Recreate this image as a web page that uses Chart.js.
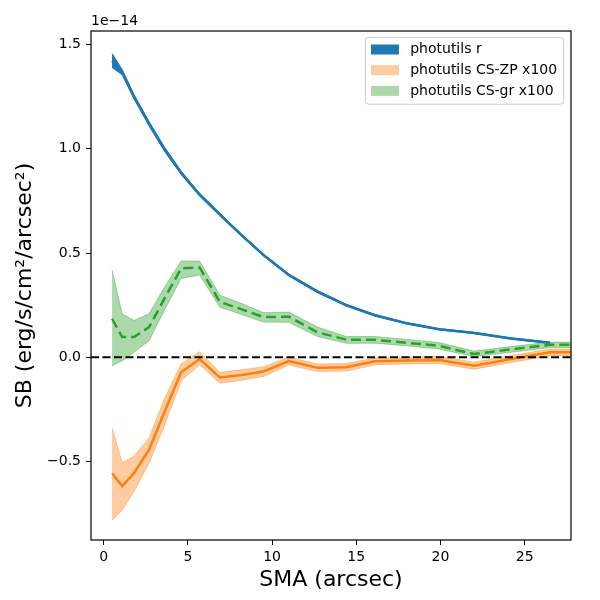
<!DOCTYPE html>
<html>
<head>
<meta charset="utf-8">
<script src="https://cdn.jsdelivr.net/npm/chart.js@4.4.1/dist/chart.umd.min.js"></script>
<style>
  body { margin: 0; background: #fff; }
  canvas { display: block; }
</style>
</head>
<body>
<canvas id="sb_chart" width="600" height="600"></canvas>
<script>
// semi-major axis (arcsec)
const sma = [0.5, 1.1, 1.8, 2.7, 3.6, 4.6, 5.7, 6.9, 8.2, 9.5, 11.0, 12.7, 14.4, 16.1, 18.0, 19.9, 22.0, 24.2, 26.5, 29.0];

// surface brightness, units of 1e-14 erg/s/cm2/arcsec2
const rMid = [1.42, 1.37, 1.25, 1.12, 1.00, 0.885, 0.78, 0.685, 0.585, 0.49, 0.395, 0.315, 0.25, 0.202, 0.163, 0.135, 0.117, 0.09, 0.07, null];
const rLo  = [1.39, 1.355, 1.24, 1.11, 0.99, 0.877, 0.773, 0.679, 0.58, 0.485, 0.39, 0.31, 0.246, 0.198, 0.16, 0.132, 0.114, 0.087, 0.067, null];
const rHi  = [1.457, 1.38, 1.26, 1.13, 1.01, 0.893, 0.787, 0.691, 0.59, 0.495, 0.40, 0.32, 0.254, 0.206, 0.166, 0.138, 0.12, 0.093, 0.073, null];

// CS-ZP x100
const zpMid = [-0.556, -0.617, -0.556, -0.443, -0.265, -0.072, -0.008, -0.097, -0.085, -0.068, -0.018, -0.05, -0.048, -0.019, -0.015, -0.013, -0.04, -0.008, 0.024, 0.024];
const zpLo  = [-0.781, -0.733, -0.644, -0.507, -0.33, -0.113, -0.035, -0.124, -0.11, -0.092, -0.037, -0.068, -0.066, -0.036, -0.032, -0.03, -0.057, -0.025, 0.008, 0.008];
const zpHi  = [-0.338, -0.504, -0.475, -0.386, -0.2, -0.032, 0.027, -0.072, -0.06, -0.045, 0.0, -0.032, -0.03, -0.002, 0.002, 0.004, -0.023, 0.009, 0.04, 0.04];

// CS-gr x100
const grMid = [0.185, 0.097, 0.097, 0.145, 0.28, 0.427, 0.431, 0.266, 0.23, 0.193, 0.195, 0.12, 0.085, 0.084, 0.07, 0.055, 0.016, 0.038, 0.06, 0.06];
const grLo  = [-0.04, -0.016, 0.024, 0.08, 0.225, 0.378, 0.395, 0.24, 0.205, 0.169, 0.168, 0.1, 0.067, 0.068, 0.055, 0.04, 0.004, 0.024, 0.047, 0.047];
const grHi  = [0.419, 0.209, 0.177, 0.209, 0.335, 0.462, 0.462, 0.298, 0.258, 0.214, 0.217, 0.145, 0.1, 0.1, 0.086, 0.071, 0.03, 0.052, 0.073, 0.073];

const xTicks = [0, 5, 10, 15, 20, 25];
const yTicks = [-0.5, 0.0, 0.5, 1.0, 1.5];
const legendLabels = ['photutils r', 'photutils CS-ZP x100', 'photutils CS-gr x100'];
const zeroLevel = 0;

const blue = '#1f77b4', orange = '#ff7f0e', green = '#2ca02c';
const orangeBand = 'rgba(255,127,14,0.4)', greenBand = 'rgba(44,160,44,0.4)';
const legendColors = [blue, orangeBand, greenBand];
const font = '"DejaVu Sans", sans-serif';

function pts(ys) {
  return sma.map((x, i) => ({x: x, y: ys[i]})).filter(p => p.y !== null);
}
function band(ys, color, fill) {
  return {data: pts(ys), fill: fill, backgroundColor: color, borderColor: color,
          borderWidth: 1, pointRadius: 0, tension: 0, order: 3};
}
function line(ys, color, dash, width) {
  return {data: pts(ys), fill: false, borderColor: color, borderWidth: width,
          borderDash: dash, pointRadius: 0, tension: 0, order: 1};
}

// box around the axes, zero line, offset text and legend
const extras = {
  id: 'extras',
  afterDatasetsDraw(chart) {
    const c = chart.ctx, a = chart.chartArea, y0 = chart.scales.y.getPixelForValue(zeroLevel);
    c.save();
    c.beginPath();
    c.rect(a.left, a.top, a.right - a.left, a.bottom - a.top);
    c.clip();
    c.setLineDash([8, 3.5]);
    c.strokeStyle = '#000';
    c.lineWidth = 2;
    c.beginPath();
    c.moveTo(a.left, y0);
    c.lineTo(a.right, y0);
    c.stroke();
    c.restore();
  },
  afterDraw(chart) {
    const c = chart.ctx, a = chart.chartArea;
    c.save();
    c.strokeStyle = '#000';
    c.lineWidth = 1.2;
    c.strokeRect(a.left, a.top, a.right - a.left, a.bottom - a.top);

    c.font = '14px ' + font;
    c.fillStyle = '#000';
    c.textBaseline = 'middle';
    c.textAlign = 'left';
    c.fillText('1e\u221214', a.left, a.top - 10);

    // legend
    let tw = 0;
    legendLabels.forEach(t => { tw = Math.max(tw, c.measureText(t).width); });
    const w = 5.6 + 28 + 11.2 + tw + 6.5;
    const right = a.right - 7.4, top = a.top + 6.5, h = 66.7;
    const left = right - w;
    c.beginPath();
    c.roundRect(left, top, w, h, 3);
    c.fillStyle = 'rgba(255,255,255,0.8)';
    c.fill();
    c.strokeStyle = '#cccccc';
    c.lineWidth = 1;
    c.stroke();
    legendLabels.forEach((t, i) => {
      const cy = top + 12 + i * 20.7;
      c.fillStyle = legendColors[i];
      c.fillRect(left + 5.6, cy - 5, 28, 10);
      c.fillStyle = '#000';
      c.fillText(t, left + 5.6 + 28 + 11.2, cy);
    });
    c.restore();
  }
};

new Chart(document.getElementById('sb_chart'), {
  type: 'line',
  data: {
    datasets: [
      band(rHi, blue, '+1'), band(rLo, blue, false), line(rMid, blue, [], 2.5),
      band(zpHi, orangeBand, '+1'), band(zpLo, orangeBand, false), line(zpMid, orange, [], 2.5),
      band(grHi, greenBand, '+1'), band(grLo, greenBand, false), line(grMid, green, [10, 5], 2.5)
    ]
  },
  options: {
    responsive: false,
    animation: false,
    devicePixelRatio: 1,
    layout: {padding: {left: 0, right: 29, top: 31, bottom: 0}},
    plugins: {legend: {display: false}, tooltip: {enabled: false}},
    scales: {
      x: {
        type: 'linear',
        min: -0.75,
        max: 27.75,
        afterBuildTicks: s => { s.ticks = xTicks.map(v => ({value: v})); },
        afterFit: s => { s.height = 60; },
        grid: {drawOnChartArea: false, drawTicks: true, tickLength: 5, color: '#000', tickWidth: 1},
        border: {display: false},
        ticks: {color: '#000', font: {family: font, size: 14}, padding: 4, maxRotation: 0,
                callback: v => String(v)},
        title: {display: true, text: 'SMA (arcsec)', color: '#000',
                font: {family: font, size: 22}, padding: {top: 0, bottom: 7}}
      },
      y: {
        type: 'linear',
        min: -0.876,
        max: 1.565,
        afterBuildTicks: s => { s.ticks = yTicks.map(v => ({value: v})); },
        afterFit: s => { s.width = 91; },
        grid: {drawOnChartArea: false, drawTicks: true, tickLength: 5, color: '#000', tickWidth: 1},
        border: {display: false},
        ticks: {color: '#000', font: {family: font, size: 14}, padding: 5,
                callback: v => v.toFixed(1).replace('-', '\u2212')},
        title: {display: true, text: 'SB (erg/s/cm\u00b2/arcsec\u00b2)', color: '#000',
                font: {family: font, size: 22}, padding: {top: 12, bottom: 0}}
      }
    }
  },
  plugins: [extras]
});
</script>
</body>
</html>
